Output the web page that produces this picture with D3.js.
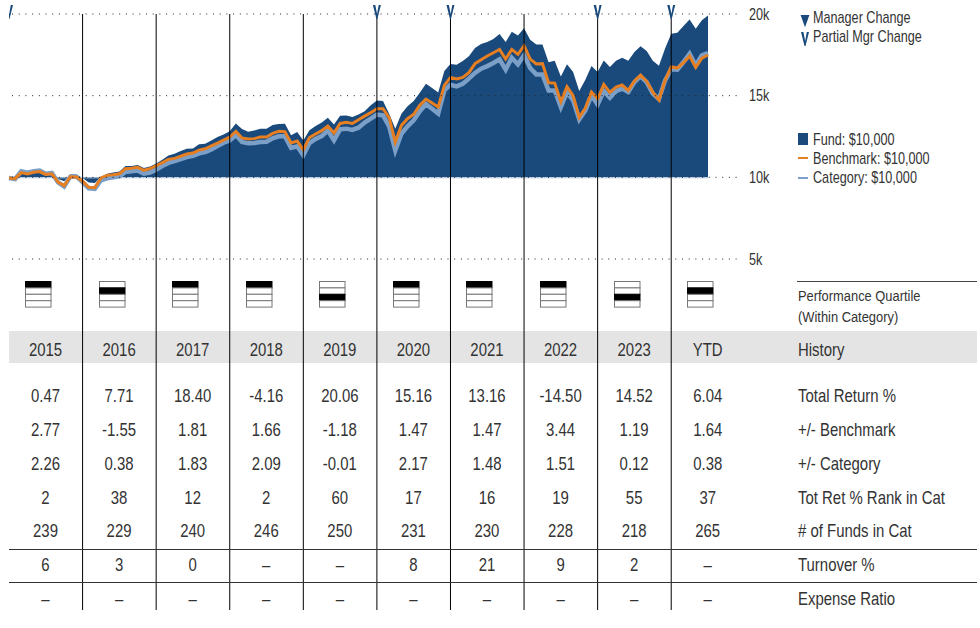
<!DOCTYPE html>
<html>
<head>
<meta charset="utf-8">
<script src="https://cdnjs.cloudflare.com/ajax/libs/d3/7.8.5/d3.min.js"></script>
<style>
  body { margin: 0; background: #fff; }
  text { font-family: "Liberation Sans", sans-serif; fill: #333; }
</style>
</head>
<body>
<div id="chart"></div>
<script>
// monthly growth of $10,000, Jan 2015 on
const fundValues = [10060,9980,10330,10290,10390,10430,10240,10290,9900,9760,10180,10180,9960,9690,9650,10020,10220,10290,10350,10690,10690,10750,10570,10670,10840,11080,11330,11450,11610,11750,11770,12020,12060,12260,12470,12630,12820,13300,12960,12790,12860,12980,12980,13200,13260,13280,12570,12770,12260,12880,13140,13350,13650,13240,13770,13790,13690,13840,14040,14410,14710,14670,13900,12980,13900,14350,14670,15180,15730,15470,15200,16510,16940,16900,17120,17410,17920,18160,18280,18470,18770,18280,18910,18690,19120,18430,18140,18140,17040,17140,16180,16920,16450,15280,15980,16810,16450,17160,16750,17140,17320,17140,17670,18020,17730,17140,16830,17890,18790,18850,19260,19670,19100,19610,19910];
const benchmarkValues = [9960,9920,10290,10200,10310,10350,10180,10220,9710,9490,10040,10020,9760,9390,9370,9960,10120,10160,10220,10530,10550,10610,10430,10530,10710,10900,11100,11160,11290,11430,11490,11670,11750,11920,12100,12280,12470,12820,12410,12350,12370,12470,12470,12690,12820,12790,12100,12220,11690,12430,12650,12860,13140,12710,13300,13370,13300,13530,13750,13960,14200,14200,13650,12160,13180,13590,13860,14410,14790,14550,14300,15630,16120,16020,16120,16410,16960,17200,17430,17630,17830,17240,17830,17530,18060,17240,16940,16960,15790,15770,14630,15550,15000,13670,14240,15220,14810,15690,15200,15530,15650,15320,15900,16260,15880,15220,14730,15940,16770,16690,17020,17430,16730,17300,17490];
const categoryValues = [9960,9900,10370,10290,10370,10410,10220,10270,9690,9430,10040,10040,9710,9330,9290,9820,9940,10000,10060,10330,10370,10410,10220,10290,10470,10690,10880,11000,11120,11240,11310,11470,11550,11710,11920,12120,12260,12590,12160,12080,12100,12160,12180,12390,12510,12510,11800,11900,11350,12100,12350,12530,12860,12260,12940,12980,12900,13040,13350,13590,13840,13790,13120,11650,12670,13120,13490,14040,14490,14200,13900,15320,15670,15570,15730,16040,16390,16650,16810,17000,17220,16590,17320,16920,17470,16690,16300,16300,15320,15320,14300,15220,14710,13550,14100,15020,14450,15280,14880,15280,15430,15220,15830,16180,15830,15120,14790,15940,16610,16590,17060,17570,16850,17470,17610];

const axisTicks = [5000, 10000, 15000, 20000];
const partialMgrMonths = [0, 60, 72, 96, 108];

const years = ["2015", "2016", "2017", "2018", "2019", "2020", "2021", "2022", "2023", "YTD"];
const quartiles = [1, 2, 1, 1, 3, 1, 1, 1, 3, 2];

const rowLabels = ["Total Return %", "+/- Benchmark", "+/- Category", "Tot Ret % Rank in Cat", "# of Funds in Cat", "Turnover %", "Expense Ratio"];
const totalReturn = ["0.47", "7.71", "18.40", "-4.16", "20.06", "15.16", "13.16", "-14.50", "14.52", "6.04"];
const plusBenchmark = ["2.77", "-1.55", "1.81", "1.66", "-1.18", "1.47", "1.47", "3.44", "1.19", "1.64"];
const plusCategory = ["2.26", "0.38", "1.83", "2.09", "-0.01", "2.17", "1.48", "1.51", "0.12", "0.38"];
const rankInCat = ["2", "38", "12", "2", "60", "17", "16", "19", "55", "37"];
const fundsInCat = ["239", "229", "240", "246", "250", "231", "230", "228", "218", "265"];
const turnover = ["6", "3", "0", "–", "–", "8", "21", "9", "2", "–"];
const expenseRatio = ["–", "–", "–", "–", "–", "–", "–", "–", "–", "–"];
const tableRows = [totalReturn, plusBenchmark, plusCategory, rankInCat, fundsInCat, turnover, expenseRatio];

const navy = "#1a4a7c";
const orange = "#e67e22";
const lightBlue = "#7b9fc6";

const width = 980;
const height = 628;

const svg = d3
  .select("#chart")
  .append("svg")
  .attr("width", width)
  .attr("height", height)
  .style("display", "block");

const xScale = d3.scaleLinear().domain([0, 114]).range([9, 708]);
const yScale = d3.scaleLinear().domain([5000, 20000]).range([259, 14]);

// table columns sit on the same yearly spacing as the chart
const colStart = (i) => xScale(i * 12);
const colCenter = (i) => colStart(i) + 36.5;

const rowScale = d3.scalePoint().domain(d3.range(7)).range([395.5, 599]);

// no condensed font installed, so squeeze the text sideways
function condensedText(x, y, s, size, squeeze, anchor) {
  return svg
    .append("text")
    .attr("transform", `translate(${x},${y}) scale(${squeeze},1)`)
    .attr("dy", "0.35em")
    .attr("text-anchor", anchor || "start")
    .style("font-size", size + "px")
    .text(s);
}

// history band goes behind everything
svg.append("rect").attr("x", 9).attr("y", 331).attr("width", 968).attr("height", 32).attr("fill", "#e4e4e4");

// area and lines
const area = d3
  .area()
  .x((d, i) => xScale(i))
  .y0(yScale(10000))
  .y1((d) => yScale(d));

const line = d3
  .line()
  .x((d, i) => xScale(i))
  .y((d) => yScale(d));

svg.append("path").attr("d", area(fundValues)).attr("fill", navy);

svg
  .append("line")
  .attr("x1", xScale(0))
  .attr("x2", xScale(114))
  .attr("y1", yScale(10000) + 0.5)
  .attr("y2", yScale(10000) + 0.5)
  .attr("stroke", "#b9c9de")
  .attr("stroke-width", 1);

svg
  .append("path")
  .attr("d", line(categoryValues))
  .attr("fill", "none")
  .attr("stroke", lightBlue)
  .attr("stroke-width", 4.5);

svg
  .append("path")
  .attr("d", line(benchmarkValues))
  .attr("fill", "none")
  .attr("stroke", orange)
  .attr("stroke-width", 3);

// dotted gridlines
svg
  .selectAll(".grid")
  .data(axisTicks)
  .enter()
  .append("line")
  .attr("class", "grid")
  .attr("x1", 12)
  .attr("x2", 738)
  .attr("y1", (d) => yScale(d))
  .attr("y2", (d) => yScale(d))
  .attr("stroke", "#222")
  .attr("stroke-width", 1)
  .attr("stroke-dasharray", "1 5.7");

// year separators
svg
  .selectAll(".year-line")
  .data(d3.range(1, 10))
  .enter()
  .append("line")
  .attr("class", "year-line")
  .attr("x1", (d) => colStart(d))
  .attr("x2", (d) => colStart(d))
  .attr("y1", 14)
  .attr("y2", 610)
  .attr("stroke", "#000")
  .attr("stroke-width", 1);

// y axis labels
const yAxis = svg
  .append("g")
  .attr("transform", "translate(749,0)")
  .call(d3.axisRight(yScale).tickValues(axisTicks).tickSize(0).tickPadding(0).tickFormat((d) => d / 1000 + "k"));
yAxis.select(".domain").remove();
yAxis
  .selectAll("text")
  .style("font-size", "16px")
  .style("font-family", null)
  .attr("transform", "scale(0.79,1)");

// partial manager change markers, the first one is cut by the plot edge
const vMark = "M-4,0 L-1.6,0 L0.2,9 L1.8,0 L4,0 L0.5,14 L-0.5,14 Z";
svg
  .append("clipPath")
  .attr("id", "plot-clip")
  .append("rect")
  .attr("x", xScale(0))
  .attr("y", 0)
  .attr("width", 720)
  .attr("height", 40);

svg
  .append("g")
  .attr("clip-path", "url(#plot-clip)")
  .selectAll(".mgr")
  .data(partialMgrMonths)
  .enter()
  .append("path")
  .attr("class", "mgr")
  .attr("d", vMark)
  .attr("fill", navy)
  .attr("transform", (d) => `translate(${xScale(d)},5)`);

// marker legend
svg.append("path").attr("d", d3.symbol(d3.symbolTriangle, 60)).attr("fill", navy).attr("transform", "translate(805,19) rotate(180) scale(0.75,1.2)");
svg.append("path").attr("d", vMark).attr("fill", navy).attr("transform", "translate(805,32)");

condensedText(813, 17.5, "Manager Change", 16, 0.79);
condensedText(813, 36.5, "Partial Mgr Change", 16, 0.79);
condensedText(813, 139.5, "Fund: $10,000", 16, 0.79);
condensedText(813, 158, "Benchmark: $10,000", 16, 0.79);
condensedText(813, 177, "Category: $10,000", 16, 0.79);

svg.append("rect").attr("x", 798).attr("y", 133).attr("width", 10).attr("height", 12).attr("fill", navy);
svg.append("rect").attr("x", 798).attr("y", 157).attr("width", 10).attr("height", 2).attr("fill", orange);
svg.append("rect").attr("x", 798).attr("y", 177).attr("width", 10).attr("height", 2).attr("fill", lightBlue);

// quartile boxes
const boxes = svg
  .selectAll(".quartile")
  .data(quartiles)
  .enter()
  .append("g")
  .attr("class", "quartile")
  .attr("transform", (d, i) => `translate(${Math.round(colStart(i) + 16)},281)`);

boxes
  .selectAll("rect")
  .data((d) => d3.range(1, 5).map((q) => ({ q, on: q === d })))
  .enter()
  .append("rect")
  .attr("x", 0.5)
  .attr("y", (d) => (d.q - 1) * 6.4 + 0.5)
  .attr("width", 25.5)
  .attr("height", 6.4)
  .attr("fill", (d) => (d.on ? "#000" : "#fff"))
  .attr("stroke", (d) => (d.on ? "#000" : "#777"))
  .attr("stroke-width", 1);

// right hand labels
svg.append("line").attr("x1", 797).attr("x2", 977).attr("y1", 281.5).attr("y2", 281.5).attr("stroke", "#444");
condensedText(798, 296, "Performance Quartile", 15, 0.86);
condensedText(798, 317, "(Within Category)", 15, 0.86);
condensedText(798, 350, "History", 18, 0.83);

years.forEach((y, i) => condensedText(colCenter(i), 350, y, 18, 0.83, "middle"));

// table body
tableRows.forEach((row, r) => {
  row.forEach((v, i) => condensedText(colCenter(i), rowScale(r), v, 18, 0.83, "middle"));
  condensedText(798, rowScale(r), rowLabels[r], 18, 0.83);
});

[549, 582].forEach((y) => {
  svg.append("line").attr("x1", 9).attr("x2", 977).attr("y1", y + 0.5).attr("y2", y + 0.5).attr("stroke", "#333");
});
</script>
</body>
</html>
